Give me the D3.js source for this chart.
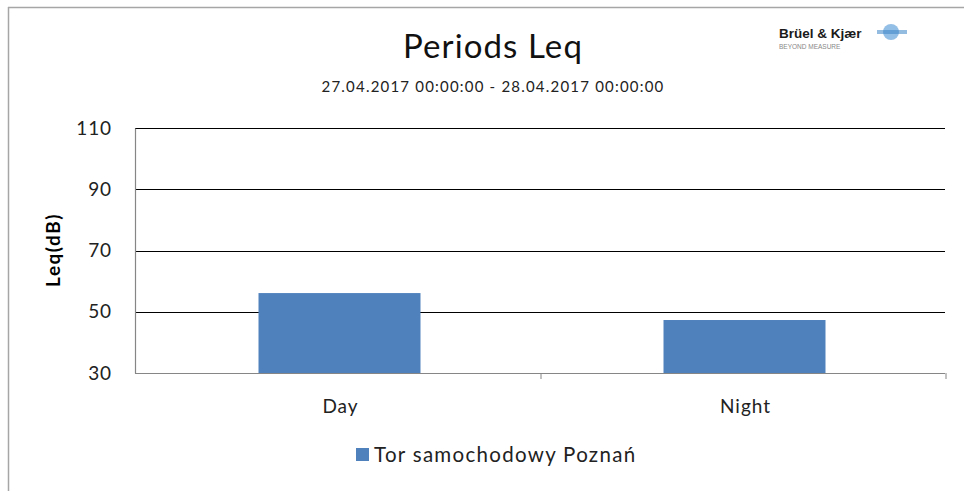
<!DOCTYPE html>
<html>
<head>
<meta charset="utf-8">
<script src="https://cdn.jsdelivr.net/npm/d3@7"></script>
<style>
  body { margin: 0; background: #fff; }
  text { font-family: Lato, "Open Sans", sans-serif; fill: #000; }
</style>
</head>
<body>
<div class="chart"></div>
<script>
// data
var categories = ["Day", "Night"];
var leqValues = [56.1, 47.3];
var yTicks = [30, 50, 70, 90, 110];
var seriesName = "Tor samochodowy Poznań";

var svgWidth = 964, svgHeight = 491;
var margin = { top: 128, right: 19, bottom: 118, left: 135 };
var width = svgWidth - margin.left - margin.right;
var height = svgHeight - margin.top - margin.bottom;

var svg = d3.select(".chart")
  .append("svg")
  .attr("width", svgWidth)
  .attr("height", svgHeight);

// outer frame (top and left edges visible)
svg.append("line").attr("x1", 8).attr("x2", svgWidth).attr("y1", 7.5).attr("y2", 7.5)
  .attr("stroke", "#a6a6a6").attr("stroke-width", 1.5);
svg.append("line").attr("x1", 8.5).attr("x2", 8.5).attr("y1", 7).attr("y2", svgHeight)
  .attr("stroke", "#a6a6a6").attr("stroke-width", 1.5);

// title
svg.append("text")
  .attr("x", 493).attr("y", 58)
  .attr("text-anchor", "middle")
  .attr("font-size", "33px")
  .attr("letter-spacing", "1.1px")
  .style("fill", "#111")
  .text("Periods Leq");

svg.append("text")
  .attr("x", 493).attr("y", 92)
  .attr("text-anchor", "middle")
  .attr("font-size", "15px")
  .attr("letter-spacing", "1.2px")
  .style("fill", "#222")
  .text("27.04.2017 00:00:00 - 28.04.2017 00:00:00");

// logo
var logo = svg.append("g").attr("transform", "translate(779, 38)");
logo.append("text")
  .style("font-size", "13.5px")
  .style("font-weight", "bold")
  .style("font-family", "'Liberation Sans', Arial, sans-serif")
  .style("fill", "#1a1a1a")
  .text("Brüel & Kjær");
logo.append("text")
  .attr("y", 11)
  .style("font-size", "6.5px")
  .style("font-family", "'Liberation Sans', Arial, sans-serif")
  .style("fill", "#888")
  .text("BEYOND MEASURE");
logo.append("circle")
  .attr("cx", 112).attr("cy", -6).attr("r", 8)
  .attr("fill", "#6fa8dc").attr("opacity", 0.75);
logo.append("rect")
  .attr("x", 98).attr("y", -8).attr("width", 30).attr("height", 4)
  .attr("fill", "#3d85c6").attr("opacity", 0.55);

var chartGroup = svg.append("g")
  .attr("transform", `translate(${margin.left}, ${margin.top})`);

var xBand = d3.scaleBand()
  .domain(categories)
  .range([0, width]);

var yLinearScale = d3.scaleLinear()
  .domain([30, 110])
  .range([height, 0]);

// gridlines
chartGroup.selectAll(".grid")
  .data(yTicks.filter(d => d > 30))
  .enter()
  .append("line")
  .attr("x1", 0).attr("x2", width)
  .attr("y1", d => Math.round(yLinearScale(d)) + 0.5)
  .attr("y2", d => Math.round(yLinearScale(d)) + 0.5)
  .attr("stroke", "#000")
  .attr("stroke-width", 1.1);

// bars
var barW = xBand.bandwidth() * 0.4;
chartGroup.selectAll("rect.bar")
  .data(leqValues)
  .enter()
  .append("rect")
  .attr("class", "bar")
  .attr("x", (d, i) => xBand(categories[i]) + xBand.bandwidth() / 2 - barW / 2 + 2)
  .attr("y", d => yLinearScale(d))
  .attr("width", barW)
  .attr("height", d => height - yLinearScale(d))
  .attr("fill", "#4f81bd");

// left axis
var leftAxis = d3.axisLeft(yLinearScale).tickValues(yTicks).tickSize(0).tickPadding(23);
var yAxis = chartGroup.append("g").call(leftAxis);
yAxis.select(".domain").attr("stroke", "#868686").attr("stroke-width", 1.2);
yAxis.selectAll("text")
  .attr("font-size", "19px")
  .attr("letter-spacing", "0.9px")
  .style("font-family", "Lato, 'Open Sans', sans-serif")
  .style("fill", "#222");

// bottom axis
var xAxisG = chartGroup.append("g")
  .attr("transform", `translate(0, ${height})`);
xAxisG.append("line")
  .attr("x1", 0).attr("x2", width)
  .attr("y1", 0.5).attr("y2", 0.5)
  .attr("stroke", "#868686").attr("stroke-width", 1.2);
xAxisG.selectAll(".tickmark")
  .data(categories.slice(1).map(c => xBand(c)).concat([width]))
  .enter()
  .append("line")
  .attr("x1", d => d + 1).attr("x2", d => d + 1)
  .attr("y1", 0).attr("y2", 6)
  .attr("stroke", "#868686");
xAxisG.selectAll(".catlabel")
  .data(categories)
  .enter()
  .append("text")
  .attr("x", d => xBand(d) + xBand.bandwidth() / 2 + 3)
  .attr("y", 40)
  .attr("text-anchor", "middle")
  .attr("font-size", "19px")
  .attr("letter-spacing", "1px")
  .style("fill", "#222")
  .text(d => d);

// y label
svg.append("text")
  .attr("transform", "rotate(-90)")
  .attr("x", -250)
  .attr("y", 60)
  .attr("text-anchor", "middle")
  .attr("font-size", "19px")
  .attr("letter-spacing", "1.5px")
  .attr("font-weight", "bold")
  .text("Leq(dB)");

// legend
var legend = svg.append("g").attr("transform", "translate(356, 448)");
legend.append("rect")
  .attr("width", 13).attr("height", 13)
  .attr("fill", "#4f81bd");
legend.append("text")
  .attr("x", 18).attr("y", 14)
  .attr("font-size", "20.5px")
  .attr("letter-spacing", "1.3px")
  .style("fill", "#222")
  .text(seriesName);
</script>
</body>
</html>
